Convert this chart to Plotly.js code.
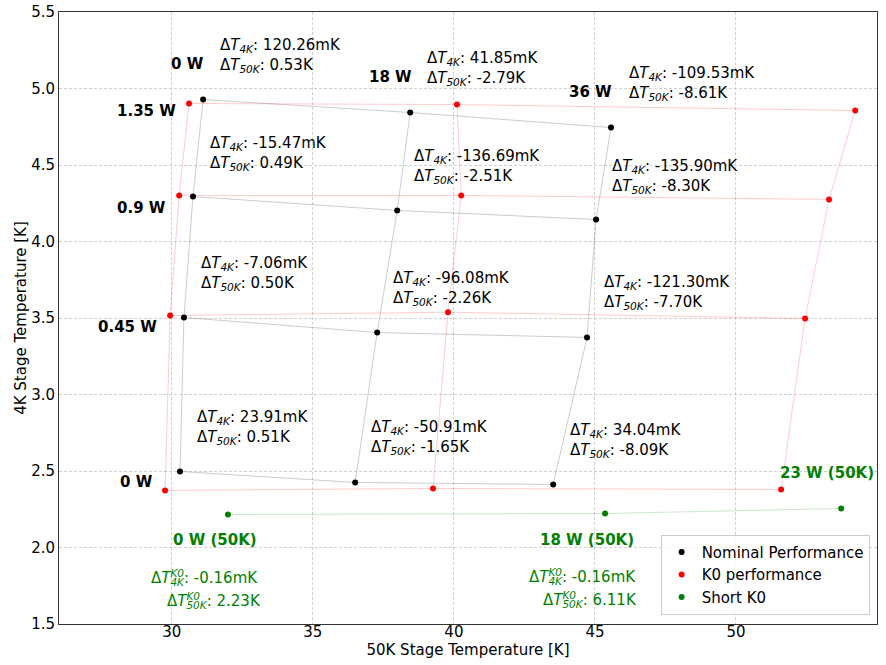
<!DOCTYPE html>
<html>
<head>
<meta charset="utf-8">
<script src="https://cdn.plot.ly/plotly-3.0.1.min.js"></script>
<style>html,body{margin:0;padding:0;background:#fff;}#chart{width:886px;height:665px;}</style>
</head>
<body>
<div id="chart"></div>
<script>
// Row labels (4K stage heat load) and column labels (50K stage heat load)
const load4K = ['0 W', '0.45 W', '0.9 W', '1.35 W'];
const load50K = ['0 W', '18 W', '36 W'];
const load50KShort = ['0 W (50K)', '18 W (50K)', '23 W (50K)'];

// Nominal performance [row = 4K load][col = 50K load]
const nominalX = [[30.29, 36.50, 43.52], [30.43, 37.28, 44.72], [30.75, 37.99, 45.04], [31.11, 38.45, 45.57]];
const nominalY = [[2.497, 2.425, 2.412], [3.503, 3.405, 3.373], [4.294, 4.203, 4.144], [4.928, 4.843, 4.745]];

// K0 performance
const k0X = [[29.76, 39.26, 51.60], [29.94, 39.79, 52.45], [30.26, 40.26, 53.30], [30.61, 40.11, 54.23]];
const k0Y = [[2.373, 2.386, 2.379], [3.516, 3.538, 3.497], [4.301, 4.301, 4.275], [4.902, 4.895, 4.856]];

// Short K0
const shortX = [31.99, 45.36, 53.73];
const shortY = [2.216, 2.222, 2.255];

// Differences (mK for 4K stage, K for 50K stage)
const dT4K = [[23.91, -50.91, 34.04], [-7.06, -96.08, -121.30], [-15.47, -136.69, -135.90], [120.26, 41.85, -109.53]];
const dT50K = [[0.51, -1.65, -8.09], [0.50, -2.26, -7.70], [0.49, -2.51, -8.30], [0.53, -2.79, -8.61]];
const dT4KShort = [-0.16, -0.16];
const dT50KShort = [2.23, 6.11];

const FONT = 'DejaVu Sans, Liberation Sans, sans-serif';
const GREEN = '#008000';
const HIDE = '<span style="color:rgba(0,0,0,0)">';

const traces = [];
function gridLines(X, Y, color) {
  for (let r = 0; r < X.length; r++) {
    traces.push({x: X[r], y: Y[r], mode: 'lines', line: {color: color, width: 1}, showlegend: false, hoverinfo: 'skip'});
  }
  for (let c = 0; c < X[0].length; c++) {
    traces.push({x: X.map(row => row[c]), y: Y.map(row => row[c]), mode: 'lines', line: {color: color, width: 1}, showlegend: false, hoverinfo: 'skip'});
  }
}
gridLines(nominalX, nominalY, 'rgba(0,0,0,0.2)');
gridLines(k0X, k0Y, 'rgba(255,0,0,0.2)');
traces.push({x: shortX, y: shortY, mode: 'lines', line: {color: 'rgba(0,128,0,0.2)', width: 1}, showlegend: false, hoverinfo: 'skip'});

traces.push({x: nominalX.flat(), y: nominalY.flat(), mode: 'markers', name: 'Nominal Performance', marker: {color: 'black', size: 6}});
traces.push({x: k0X.flat(), y: k0Y.flat(), mode: 'markers', name: 'K0 performance', marker: {color: 'red', size: 6}});
traces.push({x: shortX, y: shortY, mode: 'markers', name: 'Short K0', marker: {color: GREEN, size: 6}});

const annotations = [];
// Delta annotation positions (data coords of left edge, vertical middle)
const deltaPos = [
  [[30.82, 2.784], [36.99, 2.719], [44.05, 2.699]],
  [[30.96, 3.791], [37.77, 3.693], [45.26, 3.667]],
  [[31.28, 4.575], [38.52, 4.490], [45.54, 4.425]],
  [[31.64, 5.216], [38.98, 5.131], [46.14, 5.033]]
];
for (let r = 0; r < 4; r++) {
  for (let c = 0; c < 3; c++) {
    annotations.push({
      x: deltaPos[r][c][0], y: deltaPos[r][c][1], xref: 'x', yref: 'y', showarrow: false,
      xanchor: 'left', yanchor: 'middle', align: 'left',
      text: 'Δ<i>T</i><sub><i>4K</i></sub>: ' + dT4K[r][c].toFixed(2) + 'mK<br>Δ<i>T</i><sub><i>50K</i></sub>: ' + dT50K[r][c].toFixed(2) + 'K',
      font: {family: FONT, size: 15, color: 'black'}
    });
  }
}
// 4K load labels (bold, right aligned)
const rowLabelPos = [[29.40, 2.425], [29.55, 3.438], [29.87, 4.222], [30.22, 4.856]];
for (let r = 0; r < 4; r++) {
  annotations.push({x: rowLabelPos[r][0], y: rowLabelPos[r][1], xref: 'x', yref: 'y', showarrow: false,
    xanchor: 'right', yanchor: 'middle', text: '<b>' + load4K[r] + '</b>', font: {family: FONT, size: 15, color: 'black'}});
}
// 50K load labels
const colLabelPos = [[31.21, 5.157], [38.59, 5.078], [45.68, 4.980]];
for (let c = 0; c < 3; c++) {
  annotations.push({x: colLabelPos[c][0], y: colLabelPos[c][1], xref: 'x', yref: 'y', showarrow: false,
    xanchor: 'right', yanchor: 'middle', text: '<b>' + load50K[c] + '</b>', font: {family: FONT, size: 15, color: 'black'}});
}
// Short K0 labels
const shortLabelPos = [[31.53, 2.046], [44.72, 2.052], [53.23, 2.484]];
for (let i = 0; i < 3; i++) {
  annotations.push({x: shortLabelPos[i][0], y: shortLabelPos[i][1], xref: 'x', yref: 'y', showarrow: false,
    xanchor: 'center', yanchor: 'middle', text: '<b>' + load50KShort[i] + '</b>', font: {family: FONT, size: 15, color: GREEN}});
}
// Short K0 deltas: stacked super/subscripts built from two overlaid texts per line
const shortDeltaPos = [
  [[29.20, 1.806], [29.76, 1.656]],
  [[42.60, 1.812], [43.10, 1.662]]
];
function stackedLine(x, y, sub, rest) {
  const sup = '<i>K0</i>';
  const subT = '<sub><i>' + sub + '</i></sub>';
  const base = {x: x, y: y, xref: 'x', yref: 'y', showarrow: false, xanchor: 'left', yanchor: 'middle', align: 'left',
    font: {family: FONT, size: 15, color: GREEN}};
  annotations.push(Object.assign({}, base, {text: 'Δ<i>T</i>' + subT + rest + '<sup>' + HIDE + sup + '</span></sup>'}));
  annotations.push(Object.assign({}, base, {text: HIDE + 'Δ<i>T</i></span><sup>' + sup + '</sup>' + HIDE + subT + rest + '</span>'}));
}
for (let i = 0; i < 2; i++) {
  stackedLine(shortDeltaPos[i][0][0], shortDeltaPos[i][0][1], '4K', ': ' + dT4KShort[i].toFixed(2) + 'mK');
  stackedLine(shortDeltaPos[i][1][0], shortDeltaPos[i][1][1], '50K', ': ' + dT50KShort[i].toFixed(2) + 'K');
}

const axisCommon = {
  showline: true, linecolor: '#333333', linewidth: 1, mirror: true,
  ticks: '',
  showgrid: true, gridcolor: '#c4c4c4', griddash: '3px,2px', gridwidth: 0.8,
  zeroline: false, tickfont: {family: FONT, size: 15, color: 'black'}
};
const layout = {
  width: 886, height: 665,
  margin: {l: 59, r: 9, t: 12, b: 41},
  paper_bgcolor: 'white', plot_bgcolor: 'white',
  font: {family: FONT, size: 15, color: 'black'},
  xaxis: Object.assign({}, axisCommon, {range: [26, 55], dtick: 5, tick0: 30, ticklabelstandoff: -6,
    title: {text: '50K Stage Temperature [K]', font: {family: FONT, size: 15}, standoff: 0}}),
  yaxis: Object.assign({}, axisCommon, {range: [1.5, 5.5], dtick: 0.5, tickformat: '.1f',
    title: {text: '4K Stage Temperature [K]', font: {family: FONT, size: 15}, standoff: 0}}),
  legend: {x: 0.991, y: 0.015, xanchor: 'right', yanchor: 'bottom', bgcolor: 'rgba(255,255,255,0.8)',
    bordercolor: '#cccccc', borderwidth: 1, font: {family: FONT, size: 15, color: 'black'}},
  annotations: annotations,
  showlegend: true
};
Plotly.newPlot('chart', traces, layout, {displayModeBar: false, staticPlot: true});
</script>
</body>
</html>
